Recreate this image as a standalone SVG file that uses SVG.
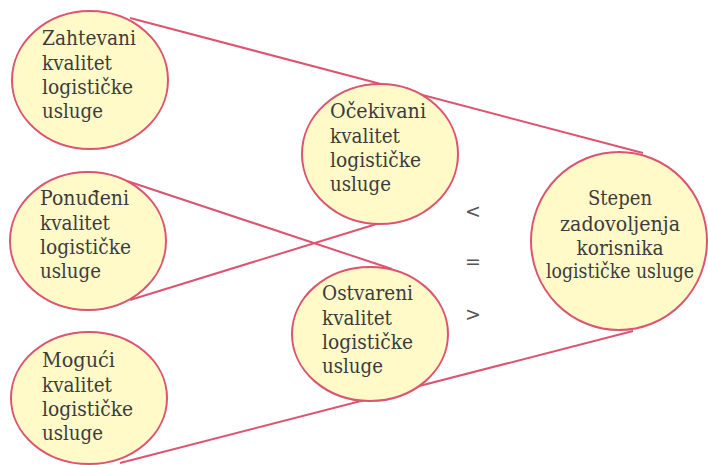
<svg xmlns="http://www.w3.org/2000/svg" width="708" height="465" viewBox="0 0 708 465">
<style>
.n ellipse{fill:#fffac8;stroke:#dc5470;stroke-width:2}
.c line{stroke:#dc5470;stroke-width:2}
.t{font-family:'DejaVu Serif',serif;font-size:21px;fill:#3c3c3c}
.s{font-family:'DejaVu Sans',sans-serif;font-size:19px;fill:#555}
</style>
<rect width="708" height="465" fill="#fff"/>
<g id="connectors" class="c">
<line x1="130" y1="18" x2="643" y2="153"/>
<line x1="127" y1="181" x2="392" y2="269"/>
<line x1="130" y1="300" x2="383" y2="222"/>
<line x1="120" y1="463" x2="633" y2="331"/>
</g>
<g id="zahtevani" class="n">
<ellipse cx="90" cy="80" rx="78" ry="69"/>
<text class="t" x="42" y="45" textLength="94" lengthAdjust="spacingAndGlyphs">Zahtevani</text>
<text class="t" x="42" y="70" textLength="70" lengthAdjust="spacingAndGlyphs">kvalitet</text>
<text class="t" x="42" y="94" textLength="91" lengthAdjust="spacingAndGlyphs">logističke</text>
<text class="t" x="42" y="118" textLength="61" lengthAdjust="spacingAndGlyphs">usluge</text>
</g>
<g id="ponudjeni" class="n">
<ellipse cx="88" cy="241" rx="78" ry="69"/>
<text class="t" x="40" y="205" textLength="89" lengthAdjust="spacingAndGlyphs">Ponuđeni</text>
<text class="t" x="40" y="230" textLength="70" lengthAdjust="spacingAndGlyphs">kvalitet</text>
<text class="t" x="40" y="254" textLength="91" lengthAdjust="spacingAndGlyphs">logističke</text>
<text class="t" x="40" y="278" textLength="61" lengthAdjust="spacingAndGlyphs">usluge</text>
</g>
<g id="moguci" class="n">
<ellipse cx="89" cy="398" rx="78" ry="66"/>
<text class="t" x="42" y="367" textLength="73" lengthAdjust="spacingAndGlyphs">Mogući</text>
<text class="t" x="42" y="392" textLength="70" lengthAdjust="spacingAndGlyphs">kvalitet</text>
<text class="t" x="42" y="416" textLength="91" lengthAdjust="spacingAndGlyphs">logističke</text>
<text class="t" x="42" y="440" textLength="61" lengthAdjust="spacingAndGlyphs">usluge</text>
</g>
<g id="ocekivani" class="n">
<ellipse cx="380" cy="154" rx="78" ry="70"/>
<text class="t" x="330" y="118" textLength="96" lengthAdjust="spacingAndGlyphs">Očekivani</text>
<text class="t" x="330" y="143" textLength="70" lengthAdjust="spacingAndGlyphs">kvalitet</text>
<text class="t" x="330" y="167" textLength="91" lengthAdjust="spacingAndGlyphs">logističke</text>
<text class="t" x="330" y="191" textLength="61" lengthAdjust="spacingAndGlyphs">usluge</text>
</g>
<g id="ostvareni" class="n">
<ellipse cx="370" cy="334" rx="78" ry="67"/>
<text class="t" x="322" y="300" textLength="91" lengthAdjust="spacingAndGlyphs">Ostvareni</text>
<text class="t" x="322" y="325" textLength="70" lengthAdjust="spacingAndGlyphs">kvalitet</text>
<text class="t" x="322" y="349" textLength="91" lengthAdjust="spacingAndGlyphs">logističke</text>
<text class="t" x="322" y="373" textLength="61" lengthAdjust="spacingAndGlyphs">usluge</text>
</g>
<g id="stepen" class="n">
<ellipse cx="619" cy="241" rx="88" ry="89"/>
<text class="t" x="620" y="205" text-anchor="middle" textLength="64" lengthAdjust="spacingAndGlyphs">Stepen</text>
<text class="t" x="620" y="231" text-anchor="middle" textLength="120" lengthAdjust="spacingAndGlyphs">zadovoljenja</text>
<text class="t" x="620" y="255" text-anchor="middle" textLength="87" lengthAdjust="spacingAndGlyphs">korisnika</text>
<text class="t" x="620" y="278" text-anchor="middle" textLength="148" lengthAdjust="spacingAndGlyphs">logističke usluge</text>
</g>
<g id="symbols">
<text class="s" x="473" y="218" text-anchor="middle">&lt;</text>
<text class="s" x="473" y="268" text-anchor="middle">=</text>
<text class="s" x="473" y="321" text-anchor="middle">&gt;</text>
</g>
</svg>
